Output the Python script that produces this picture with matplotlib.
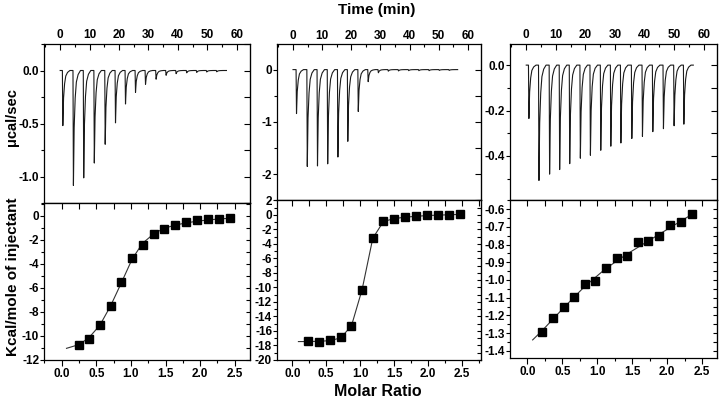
import numpy as np
import matplotlib
matplotlib.use('Agg')
import matplotlib.pyplot as plt
from matplotlib.ticker import MultipleLocator, FormatStrFormatter

plt.rcParams['font.family'] = ['Liberation Sans', 'DejaVu Sans']
plt.rcParams['axes.unicode_minus'] = False

# raw thermograms: injection times (min) and peak depths (ucal/sec)
t1 = [0.9, 4.5, 8.0, 11.6, 15.3, 18.8, 22.2, 25.6, 29.0, 32.6, 36.0, 39.4, 43.0, 46.4, 49.8, 53.2]
p1 = [-0.52, -1.085, -1.013, -0.873, -0.696, -0.494, -0.316, -0.206, -0.13, -0.082, -0.045, -0.03, -0.022, -0.018, -0.014, -0.012]
t2 = [1.2, 4.9, 8.4, 11.9, 15.4, 18.8, 22.4, 25.8, 29.3, 32.7, 36.2, 39.7, 43.2, 46.7, 50.2, 53.6]
p2 = [-0.84, -1.85, -1.84, -1.80, -1.67, -1.37, -0.80, -0.23, -0.06, -0.03, -0.025, -0.02, -0.02, -0.02, -0.015, -0.015]
t3 = [0.9, 4.3, 7.9, 11.3, 14.7, 18.3, 21.7, 25.2, 28.6, 32.0, 35.7, 39.3, 42.8, 46.4, 50.0, 53.3]
p3 = [-0.235, -0.508, -0.48, -0.46, -0.434, -0.41, -0.397, -0.375, -0.357, -0.343, -0.323, -0.314, -0.293, -0.28, -0.267, -0.26]
trace_end = 56.5

# peak shape template (offset in min, fraction of depth)
shape_dt = [-0.15, 0.0, 0.25, 0.6, 1.0, 1.6, 2.4]
shape_fr = [0.0, 1.0, 0.5, 0.24, 0.1, 0.035, 0.0]

# integrated heats (kcal/mole of injectant) vs molar ratio
x1 = [0.25, 0.394, 0.553, 0.707, 0.861, 1.019, 1.168, 1.332, 1.481, 1.644, 1.803, 1.957, 2.115, 2.269, 2.428]
y1 = [-10.76, -10.23, -9.05, -7.48, -5.54, -3.53, -2.48, -1.49, -1.08, -0.77, -0.52, -0.39, -0.25, -0.25, -0.19]
fx1 = [0.07, 0.25, 0.394, 0.553, 0.707, 0.861, 1.019, 1.168, 1.332, 1.481, 1.644, 1.803, 1.957, 2.115, 2.269, 2.428]
fy1 = [-11.03, -10.72, -10.15, -9.1, -7.5, -5.6, -3.6, -2.3, -1.5, -1.05, -0.78, -0.6, -0.46, -0.36, -0.28, -0.22]

x2 = [0.236, 0.394, 0.556, 0.713, 0.871, 1.028, 1.186, 1.343, 1.501, 1.664, 1.826, 1.988, 2.15, 2.313, 2.466]
y2 = [-17.37, -17.51, -17.23, -16.87, -15.3, -10.32, -3.17, -0.86, -0.54, -0.26, -0.17, 0.02, 0.02, 0.06, 0.15]
fx2 = [0.09, 0.236, 0.394, 0.556, 0.713, 0.871, 1.028, 1.186, 1.343, 1.501, 1.664, 1.826, 1.988, 2.15, 2.313, 2.466]
fy2 = [-17.46, -17.45, -17.42, -17.33, -16.95, -15.3, -10.3, -3.2, -0.9, -0.5, -0.3, -0.18, -0.08, -0.02, 0.03, 0.08]

x3 = [0.214, 0.371, 0.524, 0.671, 0.824, 0.971, 1.124, 1.277, 1.42, 1.586, 1.729, 1.881, 2.039, 2.196, 2.353]
y3 = [-1.295, -1.216, -1.150, -1.094, -1.0225, -1.004, -0.934, -0.878, -0.865, -0.788, -0.778, -0.752, -0.688, -0.673, -0.630]
fx3 = [0.077, 0.214, 0.524, 0.824, 1.124, 1.42, 1.729, 2.039, 2.353]
fy3 = [-1.338, -1.285, -1.155, -1.035, -0.935, -0.855, -0.78, -0.705, -0.63]

fig = plt.figure(figsize=(7.2, 4), dpi=100)

panels = [
    dict(t=t1, p=p1, fx=fx1, fy=fy1, x=x1, y=y1,
         top=[0.0611, 0.4925, 0.2861, 0.3975], bot=[0.0611, 0.1, 0.2861, 0.3925],
         tylim=(-1.25, 0.25), tmaj=0.5, tmin=0.25, tfmt='%.1f',
         bylim=(-12, 1.05), bmaj=2, bmin=1, bfmt='%d', bxlim=(-0.255, 2.72)),
    dict(t=t2, p=p2, fx=fx2, fy=fy2, x=x2, y=y2,
         top=[0.3847, 0.4988, 0.2833, 0.39], bot=[0.3847, 0.1, 0.2833, 0.3988],
         tylim=(-2.5, 0.48), tmaj=1, tmin=0.5, tfmt='%d',
         bylim=(-20, 2), bmaj=2, bmin=1, bfmt='%d', bxlim=(-0.226, 2.78)),
    dict(t=t3, p=p3, fx=fx3, fy=fy3, x=x3, y=y3,
         top=[0.7083, 0.5, 0.2875, 0.39], bot=[0.7083, 0.105, 0.2875, 0.395],
         tylim=(-0.594, 0.093), tmaj=0.2, tmin=0.1, tfmt='%.1f',
         bylim=(-1.44, -0.549), bmaj=0.1, bmin=0.05, bfmt='%.1f', bxlim=(-0.247, 2.71)),
]

for pn in panels:
    # raw data panel
    ax = fig.add_axes(pn['top'])
    tt = [0.0]
    yy = [0.0]
    for tp, d in zip(pn['t'], pn['p']):
        for dt, fr in zip(shape_dt, shape_fr):
            tt.append(tp + dt)
            yy.append(d * fr)
    tt.append(trace_end)
    yy.append(0.0)
    ax.plot(tt, yy, color='#1a1a1a', lw=0.8)
    ax.set_xlim(-5.5, 64.5)
    ax.set_ylim(*pn['tylim'])
    ax.xaxis.set_major_locator(MultipleLocator(10))
    ax.xaxis.set_minor_locator(MultipleLocator(5))
    ax.yaxis.set_major_locator(MultipleLocator(pn['tmaj']))
    ax.yaxis.set_minor_locator(MultipleLocator(pn['tmin']))
    ax.yaxis.set_major_formatter(FormatStrFormatter(pn['tfmt']))
    ax.tick_params(axis='x', which='both', top=True, bottom=False, labeltop=True,
                   labelbottom=False, direction='in')
    ax.tick_params(axis='y', which='both', left=True, right=False, direction='out')
    ax.tick_params(axis='x', which='major', length=4, width=0.8, pad=2)
    ax.tick_params(axis='y', which='major', length=3, width=0.8, pad=0.5)
    ax.tick_params(which='minor', length=2, width=0.8)
    sec = ax.secondary_yaxis('right')
    sec.yaxis.set_major_locator(MultipleLocator(pn['tmin']))
    sec.tick_params(direction='in', length=4, width=0.8, labelright=False)
    for lab in ax.get_xticklabels() + ax.get_yticklabels():
        lab.set_fontsize(8.5)
        lab.set_fontweight('bold')
    for s in ax.spines.values():
        s.set_linewidth(0.9)

    # binding isotherm panel
    bx = fig.add_axes(pn['bot'])
    bx.plot(pn['fx'], pn['fy'], color='#333333', lw=0.8)
    bx.plot(pn['x'], pn['y'], 's', color='black', ms=5.5)
    bx.set_xlim(*pn['bxlim'])
    bx.set_ylim(*pn['bylim'])
    bx.xaxis.set_major_locator(MultipleLocator(0.5))
    bx.xaxis.set_minor_locator(MultipleLocator(0.25))
    bx.yaxis.set_major_locator(MultipleLocator(pn['bmaj']))
    bx.yaxis.set_minor_locator(MultipleLocator(pn['bmin']))
    bx.yaxis.set_major_formatter(FormatStrFormatter(pn['bfmt']))
    bx.tick_params(axis='both', which='both', direction='out')
    bx.tick_params(axis='x', which='major', length=4, width=0.8, pad=2)
    bx.tick_params(axis='y', which='major', length=3, width=0.8, pad=0.5)
    bx.tick_params(which='minor', length=2, width=0.8)
    secx = bx.secondary_xaxis('top')
    secx.xaxis.set_major_locator(MultipleLocator(0.25))
    secx.tick_params(direction='in', length=4, width=0.8, labeltop=False)
    secy = bx.secondary_yaxis('right')
    secy.yaxis.set_major_locator(MultipleLocator(pn['bmin']))
    secy.tick_params(direction='in', length=3, width=0.8, labelright=False)
    for lab in bx.get_xticklabels() + bx.get_yticklabels():
        lab.set_fontsize(8.5)
        lab.set_fontweight('bold')
    for s in bx.spines.values():
        s.set_linewidth(0.9)

fig.text(377 / 720, 1 - 10 / 400, 'Time (min)', ha='center', va='center',
         fontsize=11, fontweight='bold')
fig.text(378 / 720, 1 - 391 / 400, 'Molar Ratio', ha='center', va='center',
         fontsize=11.5, fontweight='bold')
fig.text(12 / 720, 1 - 117 / 400, 'μcal/sec', ha='center', va='center',
         rotation=90, fontsize=10.5, fontweight='bold')
fig.text(13 / 720, 1 - 277 / 400, 'Kcal/mole of injectant', ha='center', va='center',
         rotation=90, fontsize=11, fontweight='bold')

fig.savefig('out.png', dpi=100)
